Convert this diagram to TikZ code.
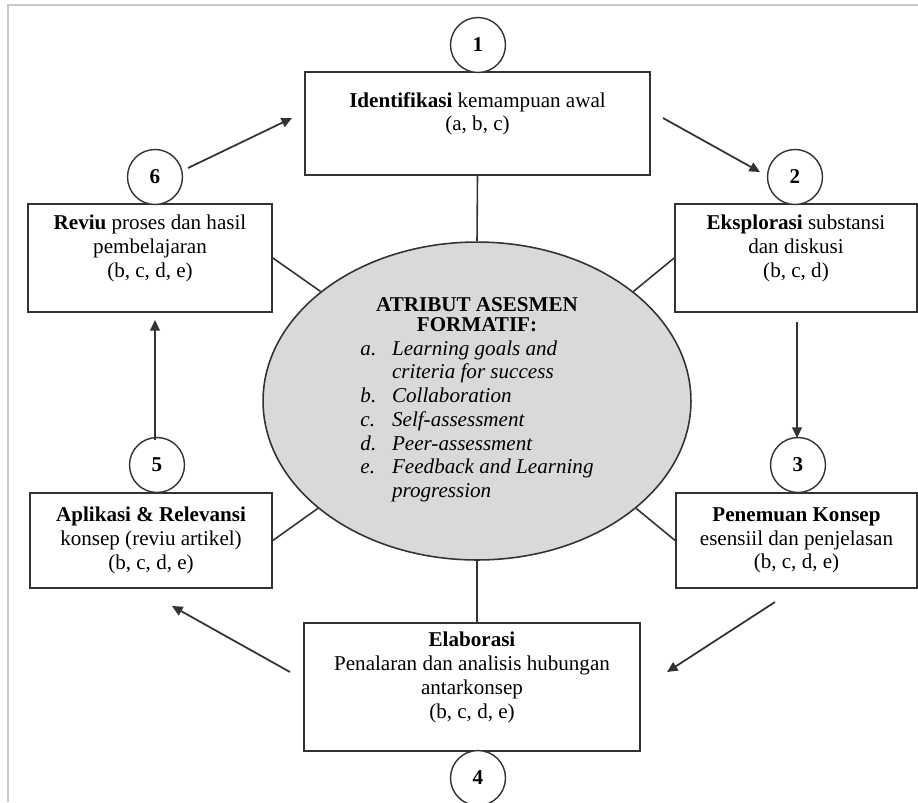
\documentclass[tikz,border=0pt]{standalone}
\usepackage{fontspec}
\setmainfont{Liberation Serif}
\usetikzlibrary{arrows.meta,shapes.geometric}
\definecolor{linegray}{HTML}{333333}
\definecolor{framegray}{HTML}{C8C8C8}
\definecolor{ellfill}{HTML}{D9D9D9}
\begin{document}
\begin{tikzpicture}[x=0.02cm, y=-0.02cm, >={Triangle[length=6pt,width=5.5pt]},
    stagebox/.style={rectangle, draw=linegray, line width=1pt, align=center, inner sep=2pt,
      font=\fontsize{12}{13.5}\selectfont},
    numnode/.style={circle, draw=linegray, line width=0.8pt, minimum size=1.1cm, inner sep=0pt,
      fill=white, font=\fontsize{12}{14}\selectfont\bfseries},
    spoke/.style={draw=linegray, line width=0.9pt},
    flow/.style={->, draw=linegray, line width=1pt}]
  \useasboundingbox (0,0) rectangle (918,802);
  % Page frame (gray)
  \draw[framegray, line width=0.8pt] (8,802) -- (8,5) -- (918,5);

  % Central ellipse
  \node[ellipse, draw=linegray, line width=0.9pt, fill=ellfill, minimum width=8.56cm, minimum height=6.36cm,
        align=center, font=\fontsize{12}{13.5}\selectfont] (ell) at (477,401)
    {\textbf{ATRIBUT ASESMEN}\\[-2pt]\textbf{FORMATIF:}\\
     \begin{tabular}[t]{@{}l@{\hspace{9pt}}l@{}}
       \textit{a.} & \textit{Learning goals and}\\
                   & \textit{criteria for success}\\
       \textit{b.} & \textit{Collaboration}\\
       \textit{c.} & \textit{Self-assessment}\\
       \textit{d.} & \textit{Peer-assessment}\\
       \textit{e.} & \textit{Feedback and Learning}\\
                   & \textit{progression}
     \end{tabular}};

  % Stage boxes
  \node[stagebox, minimum width=6.9cm, minimum height=2.06cm] (b1) at (477.5,123.5)
    {\textbf{Identifikasi} kemampuan awal\\(a, b, c)\\\mbox{}};
  \node[stagebox, minimum width=4.84cm, minimum height=2.16cm] (b2) at (796,258)
    {\textbf{Eksplorasi} substansi\\dan diskusi\\(b, c, d)\\\mbox{}};
  \node[stagebox, minimum width=4.82cm, minimum height=1.9cm] (b3) at (796.5,540.5)
    {\textbf{Penemuan Konsep}\\esensiil dan penjelasan\\(b, c, d, e)};
  \node[stagebox, minimum width=6.72cm, minimum height=2.56cm] (b4) at (472,687)
    {\textbf{Elaborasi}\\Penalaran dan analisis hubungan\\antarkonsep\\(b, c, d, e)\\\mbox{}};
  \node[stagebox, minimum width=4.84cm, minimum height=1.9cm] (b5) at (151,540.5)
    {\textbf{Aplikasi \& Relevansi}\\konsep (reviu artikel)\\(b, c, d, e)};
  \node[stagebox, minimum width=4.88cm, minimum height=2.16cm] (b6) at (150,258)
    {\textbf{Reviu} proses dan hasil\\pembelajaran\\(b, c, d, e)\\\mbox{}};

  % Step numbers
  \node[numnode] (c1) at (478,45) {1};
  \node[numnode] (c2) at (795,177) {2};
  \node[numnode] (c3) at (798,465) {3};
  \node[numnode] (c4) at (478,778) {4};
  \node[numnode] (c5) at (157,465) {5};
  \node[numnode] (c6) at (155,177) {6};

  % Spokes to the ellipse
  \draw[spoke] (b1.south) -- (ell.north);
  \draw[spoke] (ell.south) -- (ell.south |- b4.north);
  \draw[spoke] (b2.west) -- (ell.35);
  \draw[spoke] (b6.east) -- (ell.145);
  \draw[spoke] (b5.east) -- (ell.214);
  \draw[spoke] (b3.west) -- (ell.-34);

  % Cycle arrows
  \coordinate (f1s) at (663,118);  \coordinate (f1e) at (760,172);
  \coordinate (f2s) at (797,322);  \coordinate (f2e) at (797,438);
  \coordinate (f3s) at (775,602);  \coordinate (f3e) at (667,672);
  \coordinate (f4s) at (290,672);  \coordinate (f4e) at (172,606);
  \coordinate (f5s) at (155,440);  \coordinate (f5e) at (155,320);
  \coordinate (f6s) at (188,168);  \coordinate (f6e) at (292,118);
  \draw[flow] (f1s) -- (f1e);
  \draw[flow] (f2s) -- (f2e);
  \draw[flow] (f3s) -- (f3e);
  \draw[flow] (f4s) -- (f4e);
  \draw[flow] (f5s) -- (f5e);
  \draw[flow] (f6s) -- (f6e);
\end{tikzpicture}
\end{document}
